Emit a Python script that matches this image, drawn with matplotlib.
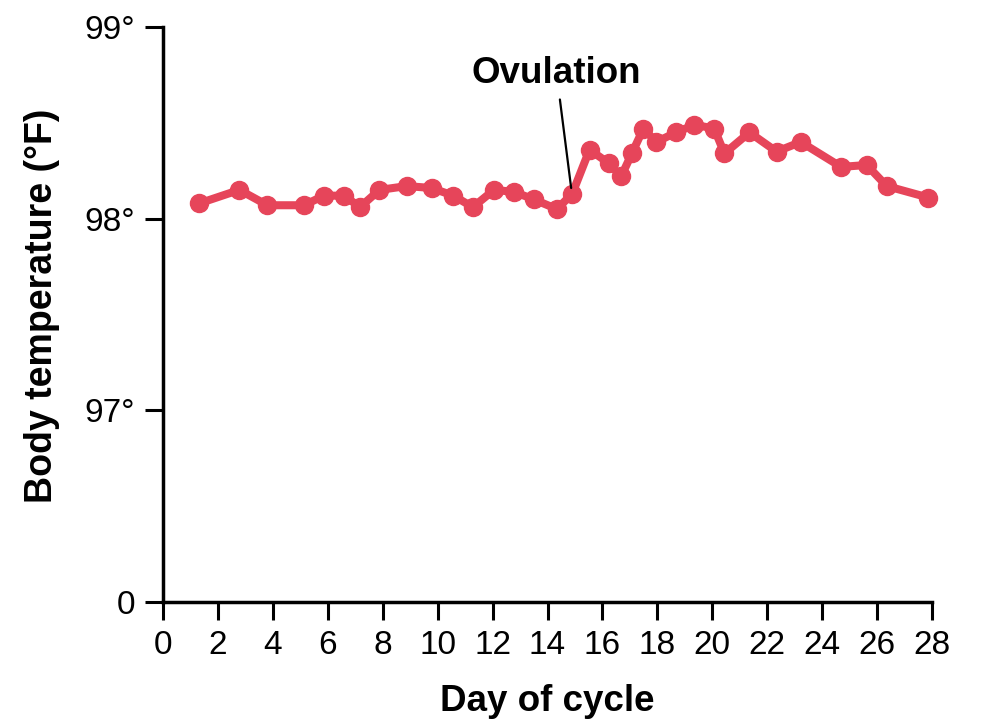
import matplotlib
matplotlib.use("Agg")
import matplotlib.pyplot as plt

plt.rcParams['font.family'] = ['Liberation Sans', 'DejaVu Sans']

# day of cycle and basal body temperature (deg F)
days = [1.32, 2.78, 3.80, 5.13, 5.86, 6.59, 7.17, 7.88, 8.87, 9.78,
        10.57, 11.28, 12.05, 12.78, 13.51, 14.34, 14.90, 15.53, 16.22, 16.68,
        17.07, 17.49, 17.96, 18.68, 19.35, 20.07, 20.44, 21.35, 22.34, 23.22,
        24.69, 25.62, 26.35, 27.87]
temps = [98.08, 98.15, 98.07, 98.07, 98.12, 98.12, 98.06, 98.15, 98.17, 98.16,
         98.12, 98.06, 98.15, 98.14, 98.10, 98.05, 98.13, 98.36, 98.29, 98.22,
         98.34, 98.47, 98.40, 98.45, 98.49, 98.47, 98.34, 98.45, 98.35, 98.40,
         98.27, 98.28, 98.17, 98.11]

x_ticks = list(range(0, 29, 2))
y_ticks = [96, 97, 98, 99]
y_tick_labels = ['0', '97°', '98°', '99°']

red = '#E6455A'

fig = plt.figure(figsize=(9.81, 7.2), dpi=100)
ax = fig.add_axes([0.1662, 0.1639, 0.9501 - 0.1662, 0.9625 - 0.1639])

ax.plot(days, temps, color=red, linewidth=5.8, marker='o', markersize=13,
        solid_joinstyle='round', solid_capstyle='round', clip_on=False)

ax.set_xlim(0, 28)
ax.set_ylim(96, 99)
ax.set_xticks(x_ticks)
ax.set_yticks(y_ticks)
ax.set_yticklabels(y_tick_labels)

for side in ['top', 'right']:
    ax.spines[side].set_visible(False)
for side in ['left', 'bottom']:
    ax.spines[side].set_linewidth(2.5)

ax.tick_params(axis='both', direction='out', length=13, width=2.2,
               labelsize=24, pad=7)

ax.set_xlabel('Day of cycle', fontsize=26.5, fontweight='bold', labelpad=17)
ax.set_ylabel('Body temperature (°F)', fontsize=27, fontweight='bold')
ax.yaxis.set_label_coords(-0.134, 0.515)

# ovulation callout
ax.annotate('Ovulation', xy=(14.86, 98.16), xytext=(14.33, 98.665),
            ha='center', va='bottom', fontsize=26.5, fontweight='bold',
            arrowprops=dict(arrowstyle='-', color='black', lw=1.6,
                            shrinkA=4, shrinkB=0))

fig.savefig('out.png', dpi=100)
